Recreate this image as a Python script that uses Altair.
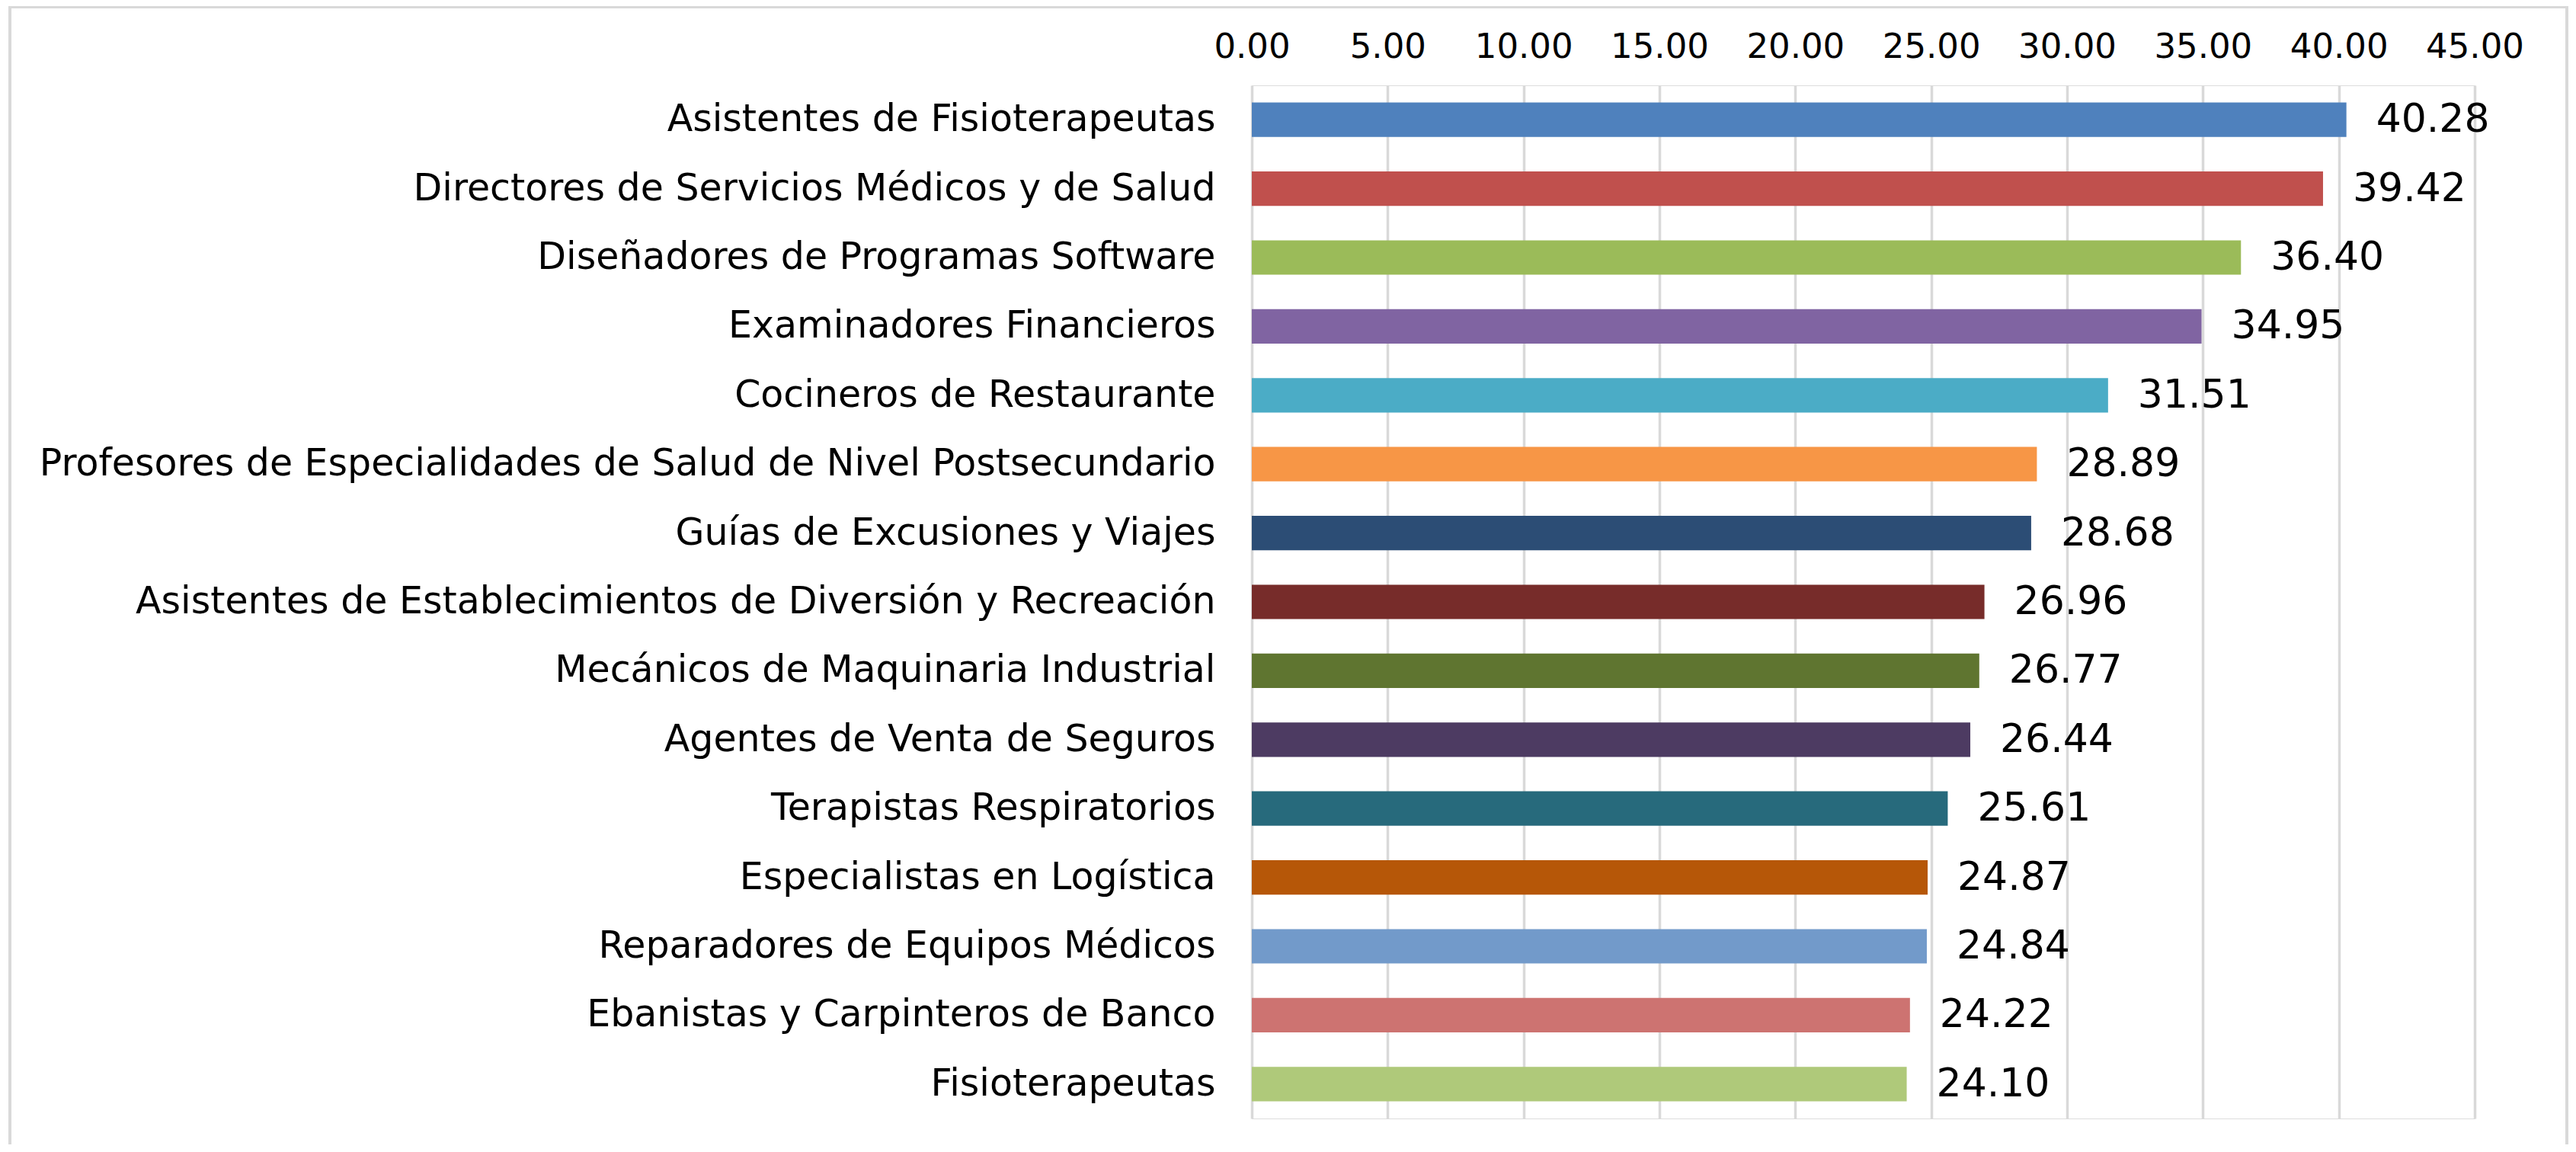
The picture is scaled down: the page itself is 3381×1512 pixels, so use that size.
import altair as alt
import pandas as pd

categories = [
    "Asistentes de Fisioterapeutas",
    "Directores de Servicios Médicos y de Salud",
    "Diseñadores de Programas Software",
    "Examinadores Financieros",
    "Cocineros de Restaurante",
    "Profesores de Especialidades de Salud de Nivel Postsecundario",
    "Guías de Excusiones y Viajes",
    "Asistentes de Establecimientos de Diversión y Recreación",
    "Mecánicos de Maquinaria Industrial",
    "Agentes de Venta de Seguros",
    "Terapistas Respiratorios",
    "Especialistas en Logística",
    "Reparadores de Equipos Médicos",
    "Ebanistas y Carpinteros de Banco",
    "Fisioterapeutas",
]
values = [40.28, 39.42, 36.40, 34.95, 31.51, 28.89, 28.68, 26.96, 26.77,
          26.44, 25.61, 24.87, 24.84, 24.22, 24.10]
colors = ["#4F81BD", "#C0504D", "#9BBB59", "#8064A2", "#4BACC6", "#F79646",
          "#2C4D75", "#772C2A", "#5F7530", "#4D3B62", "#276A7C", "#B65708",
          "#729ACA", "#CD7371", "#AFC97A"]
tick_values = [0, 5, 10, 15, 20, 25, 30, 35, 40, 45]

FONT = "DejaVu Sans"

df = pd.DataFrame({"cat": categories, "val": values})

y_enc = alt.Y(
    "cat:N",
    sort=categories,
    scale=alt.Scale(paddingInner=0.5, paddingOuter=0.25),
    axis=alt.Axis(
        title=None, ticks=False, domain=False, grid=False,
        labelFontSize=49, labelFont=FONT, labelColor="#000000",
        labelPadding=48, labelLimit=0,
    ),
)
x_enc = alt.X(
    "val:Q",
    scale=alt.Scale(domain=[0, 45], nice=False),
    axis=alt.Axis(
        orient="top", title=None, values=tick_values, format=".2f",
        ticks=False, domain=False, grid=True, gridColor="#d9d9d9",
        gridWidth=3.5, labelFontSize=45, labelFont=FONT,
        labelColor="#000000", labelPadding=28,
        labelOverlap=False, labelFlush=False, labelBound=False,
    ),
)

bars = alt.Chart(df).mark_bar().encode(
    x=x_enc,
    y=y_enc,
    color=alt.Color("cat:N", scale=alt.Scale(domain=categories, range=colors),
                    legend=None),
)

labels = alt.Chart(df).mark_text(
    align="left", baseline="middle", dx=39, fontSize=52, font=FONT,
    color="#000000",
).encode(
    x="val:Q",
    y=alt.Y("cat:N", sort=categories),
    text=alt.Text("val:Q", format=".2f"),
)

frame = alt.Chart(alt.Data(values=[{"a": 1}])).mark_rect(
    fill=None, stroke="#d9d9d9", strokeWidth=4,
).encode(
    x=alt.value(-1630), x2=alt.value(1726),
    y=alt.value(-103), y2=alt.value(1500),
)

chart = alt.layer(frame, bars, labels).properties(
    width=1605,
    height=1356,
    autosize=alt.AutoSizeParams(type="none"),
    padding={"left": 1635, "top": 104, "right": 124, "bottom": 34},
).configure_view(stroke=None).configure(background="#ffffff")

chart.save("out.html", embed_options={"renderer": "svg", "actions": False})
